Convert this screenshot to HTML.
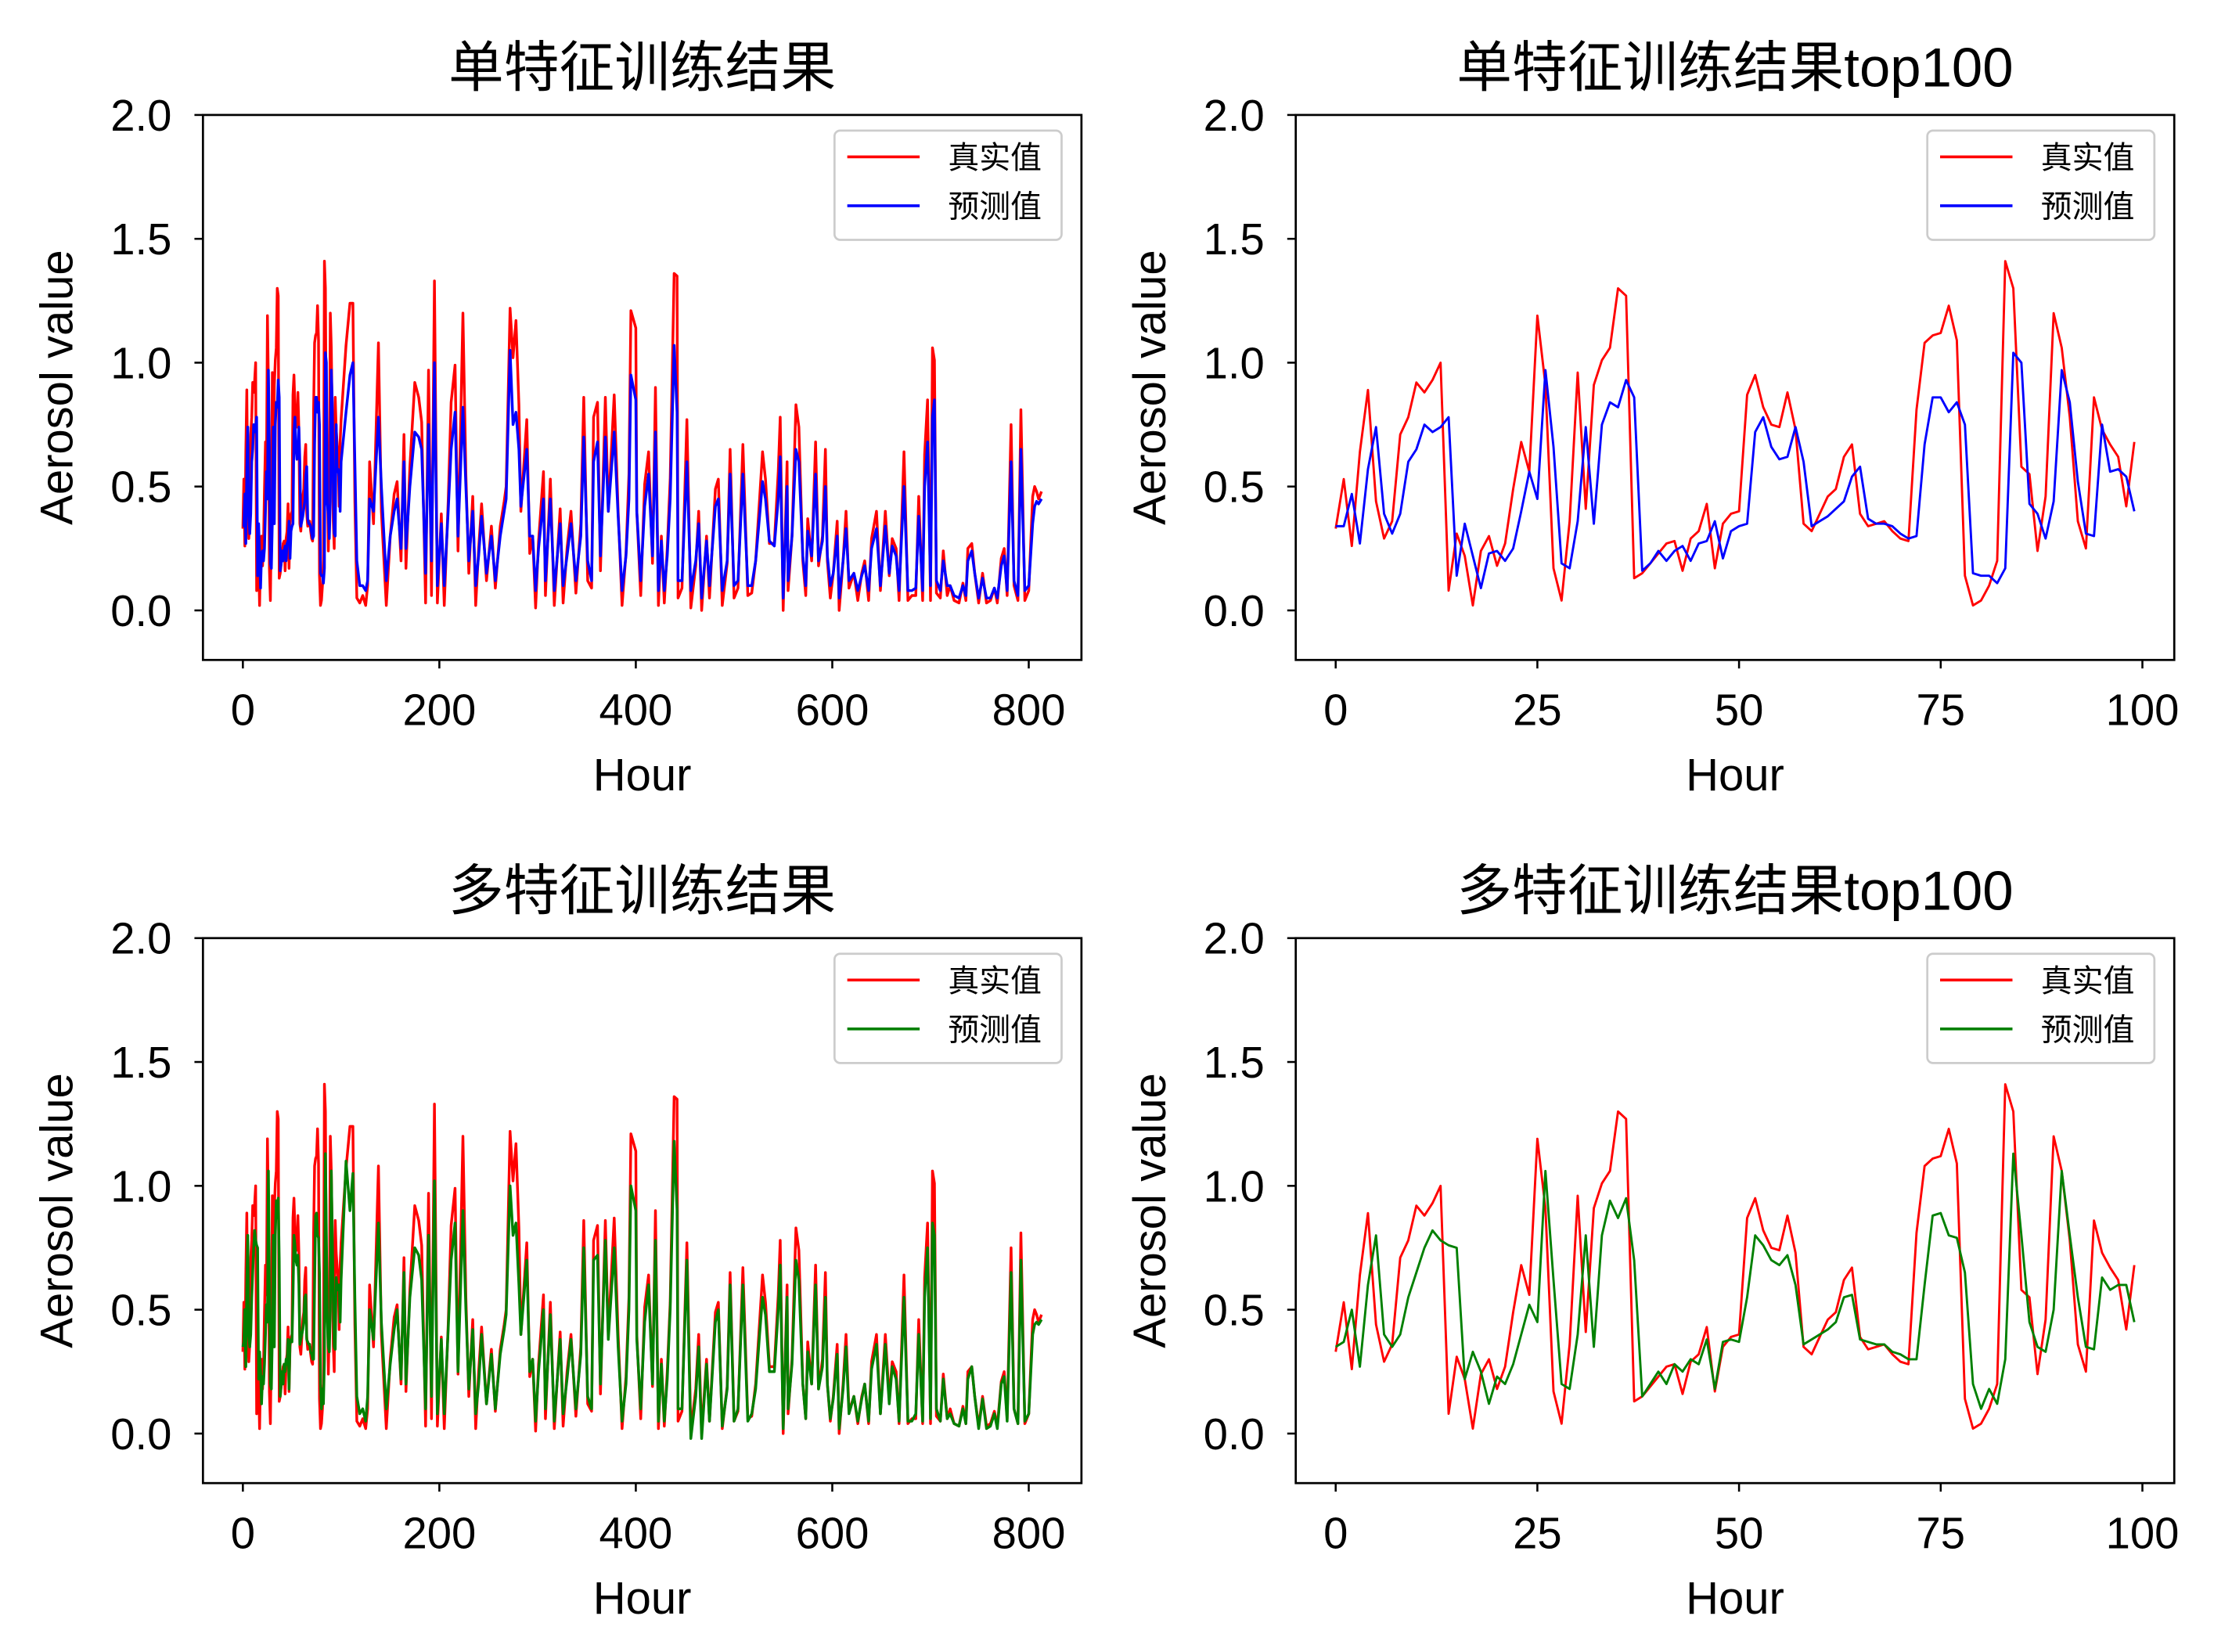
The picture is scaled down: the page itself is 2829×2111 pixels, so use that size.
<!DOCTYPE html>
<html><head><meta charset="utf-8"><title>Aerosol charts</title>
<style>
html,body{margin:0;padding:0;background:#fff;}
svg{display:block;}
text{font-family:"Liberation Sans","Noto Sans CJK SC",sans-serif;fill:#000;}
</style></head>
<body>
<svg id="fig" xmlns="http://www.w3.org/2000/svg" width="2829" height="2111" viewBox="0 0 1560 1164" preserveAspectRatio="none">
<rect x="0" y="0" width="1560" height="1164" fill="#fff"/>
</svg>
<script>
// ---- data: first 100 hours ----
const real100 = [0.33,0.53,0.26,0.64,0.89,0.44,0.29,0.36,0.71,0.78,
0.92,0.88,0.93,1.00,0.08,0.31,0.22,0.02,0.24,0.30,
0.18,0.27,0.49,0.68,0.56,1.19,0.91,0.17,0.04,0.36,
0.96,0.41,0.91,1.01,1.06,1.30,1.27,0.13,0.15,0.19,
0.23,0.27,0.28,0.16,0.29,0.32,0.43,0.17,0.35,0.39,
0.40,0.87,0.95,0.82,0.75,0.74,0.88,0.73,0.35,0.32,
0.39,0.46,0.49,0.62,0.67,0.39,0.34,0.35,0.36,0.32,
0.29,0.28,0.81,1.08,1.11,1.12,1.23,1.09,0.14,0.02,
0.04,0.10,0.20,1.41,1.30,0.58,0.55,0.24,0.46,1.20,
1.06,0.78,0.36,0.25,0.86,0.73,0.67,0.62,0.42,0.68];
const pred1_100 = [0.34,0.34,0.47,0.27,0.57,0.74,0.39,0.31,0.39,0.60,
0.65,0.75,0.72,0.74,0.78,0.14,0.35,0.22,0.09,0.23,
0.24,0.20,0.25,0.40,0.56,0.45,0.97,0.66,0.19,0.17,
0.36,0.74,0.35,0.75,0.84,0.82,0.93,0.86,0.16,0.19,
0.24,0.20,0.24,0.26,0.20,0.27,0.28,0.36,0.21,0.32,
0.34,0.35,0.72,0.78,0.66,0.61,0.62,0.74,0.60,0.34,
0.36,0.38,0.41,0.44,0.54,0.58,0.37,0.35,0.35,0.34,
0.31,0.29,0.30,0.67,0.86,0.86,0.80,0.84,0.75,0.15,
0.14,0.14,0.11,0.17,1.04,1.00,0.43,0.39,0.29,0.44,
0.97,0.84,0.52,0.31,0.30,0.75,0.56,0.57,0.54,0.40];
const pred2_100 = [0.35,0.37,0.50,0.27,0.60,0.80,0.40,0.35,0.40,0.55,
0.65,0.75,0.82,0.78,0.76,0.75,0.22,0.33,0.25,0.12,
0.23,0.20,0.28,0.40,0.52,0.45,1.06,0.62,0.20,0.18,
0.40,0.80,0.35,0.80,0.94,0.87,0.95,0.70,0.15,0.20,
0.25,0.20,0.28,0.25,0.30,0.28,0.38,0.18,0.37,0.38,
0.37,0.55,0.80,0.76,0.70,0.68,0.72,0.60,0.36,0.38,
0.40,0.42,0.45,0.55,0.56,0.38,0.37,0.36,0.36,0.33,
0.32,0.30,0.30,0.60,0.88,0.89,0.80,0.79,0.65,0.20,
0.10,0.18,0.12,0.30,1.13,0.80,0.45,0.35,0.33,0.50,
1.06,0.80,0.55,0.35,0.34,0.63,0.58,0.60,0.60,0.45];
// ---- data: remaining hours (sampled) ----
const tailHours = [100,105,109,112,114,116,119,122,125,127,129,133,138,141,146,150,154,157,161,164,166,170,175,179,182,186,189,192,195,198,202,205,209,212,216,219,224,227,230,234,237,240,243,248,253,257,262,266,268,272,275,278,281,283,289,292,295,298,301,306,308,313,317,323,326,330,334,339,344,347,351,355,357,361,364,369,372,378,382,386,390,393,395,400,401,405,409,413,417,420,423,426,429,432,435,439,442,443,447,452,456,461,464,467,472,475,481,484,488,493,496,500,504,509,514,518,522,526,529,532,536,541,545,547,550,554,555,559,563,566,570,573,575,579,583,586,590,593,595,598,601,605,607,611,614,617,622,626,630,633,637,640,645,649,654,658,661,665,668,673,677,681,685,688,692,694,697,700,702,704,706,710,713,717,720,724,729,733,736,738,742,745,749,753,757,761,765,768,772,775,778,782,785,789,792,796,800,804,806,808,810,813];
const tailReal = [0.77,1.07,1.24,1.24,0.44,0.05,0.03,0.06,0.02,0.1,0.6,0.35,1.08,0.4,0.02,0.3,0.47,0.52,0.2,0.71,0.17,0.58,0.92,0.86,0.76,0.03,0.97,0.06,1.33,0.03,0.39,0.02,0.44,0.84,0.99,0.24,1.2,0.55,0.15,0.46,0.02,0.25,0.43,0.12,0.34,0.09,0.34,0.44,0.5,1.22,1.02,1.17,0.83,0.4,0.77,0.23,0.3,0.01,0.28,0.56,0.06,0.53,0.02,0.41,0.03,0.25,0.4,0.07,0.35,0.86,0.12,0.09,0.78,0.84,0.16,0.86,0.4,0.87,0.4,0.02,0.23,0.55,1.21,1.14,0.4,0.06,0.51,0.64,0.19,0.9,0.02,0.3,0.03,0.25,0.53,1.36,1.35,0.05,0.09,0.77,0.01,0.18,0.4,0.0,0.3,0.05,0.49,0.53,0.02,0.19,0.65,0.05,0.09,0.67,0.06,0.07,0.2,0.45,0.64,0.53,0.27,0.27,0.56,0.78,0.0,0.6,0.08,0.3,0.83,0.74,0.2,0.06,0.37,0.2,0.68,0.18,0.3,0.65,0.2,0.05,0.15,0.36,0.0,0.2,0.4,0.09,0.15,0.04,0.15,0.2,0.04,0.29,0.4,0.08,0.4,0.14,0.29,0.25,0.04,0.64,0.04,0.06,0.06,0.46,0.04,0.63,0.85,0.04,1.06,1.01,0.07,0.05,0.24,0.06,0.1,0.04,0.03,0.11,0.04,0.25,0.27,0.15,0.03,0.15,0.03,0.04,0.09,0.03,0.21,0.25,0.06,0.75,0.1,0.04,0.81,0.04,0.08,0.46,0.5,0.48,0.45,0.48];
const tailPred1 = [0.6,0.8,0.95,1.0,0.6,0.2,0.1,0.1,0.08,0.12,0.45,0.4,0.78,0.5,0.12,0.3,0.4,0.45,0.25,0.6,0.25,0.5,0.72,0.7,0.65,0.15,0.75,0.2,1.0,0.1,0.35,0.1,0.4,0.65,0.8,0.3,0.82,0.5,0.2,0.4,0.1,0.22,0.38,0.15,0.3,0.12,0.3,0.4,0.45,1.05,0.75,0.8,0.65,0.42,0.65,0.3,0.3,0.08,0.25,0.45,0.12,0.45,0.08,0.35,0.1,0.22,0.35,0.12,0.3,0.7,0.2,0.12,0.6,0.68,0.22,0.7,0.4,0.72,0.38,0.08,0.22,0.45,0.95,0.85,0.4,0.12,0.42,0.55,0.22,0.72,0.08,0.28,0.08,0.22,0.45,1.07,0.8,0.12,0.12,0.6,0.08,0.2,0.35,0.05,0.28,0.1,0.42,0.45,0.08,0.2,0.55,0.1,0.12,0.55,0.1,0.1,0.2,0.38,0.52,0.45,0.28,0.26,0.45,0.62,0.05,0.5,0.12,0.3,0.65,0.6,0.22,0.1,0.32,0.22,0.55,0.2,0.28,0.5,0.22,0.1,0.15,0.3,0.05,0.2,0.33,0.12,0.15,0.08,0.14,0.18,0.08,0.25,0.33,0.1,0.34,0.15,0.26,0.22,0.08,0.5,0.08,0.08,0.09,0.38,0.08,0.5,0.68,0.1,0.78,0.85,0.12,0.08,0.2,0.1,0.1,0.06,0.05,0.1,0.06,0.2,0.24,0.15,0.05,0.13,0.05,0.05,0.09,0.05,0.18,0.22,0.08,0.6,0.12,0.06,0.65,0.08,0.1,0.35,0.42,0.44,0.43,0.45];
const tailPred2 = [0.62,1.1,0.9,1.05,0.55,0.15,0.08,0.1,0.05,0.15,0.5,0.38,0.85,0.45,0.1,0.28,0.42,0.5,0.22,0.65,0.2,0.55,0.75,0.72,0.62,0.1,0.8,0.15,1.02,0.08,0.38,0.08,0.42,0.7,0.85,0.25,0.9,0.5,0.18,0.42,0.08,0.2,0.4,0.12,0.32,0.1,0.32,0.42,0.48,1.0,0.8,0.85,0.6,0.4,0.7,0.25,0.3,0.05,0.25,0.5,0.1,0.48,0.05,0.38,0.08,0.22,0.38,0.1,0.32,0.75,0.15,0.1,0.7,0.72,0.2,0.78,0.38,0.75,0.35,0.05,0.2,0.5,1.0,0.9,0.38,0.1,0.45,0.6,0.2,0.78,0.05,0.28,0.05,0.22,0.5,1.18,0.9,0.1,0.1,0.7,-0.02,0.15,0.35,-0.02,0.28,0.05,0.45,0.5,0.03,0.18,0.6,0.05,0.1,0.6,0.05,0.08,0.18,0.4,0.55,0.48,0.25,0.25,0.5,0.68,0.02,0.55,0.1,0.28,0.7,0.62,0.2,0.06,0.33,0.2,0.6,0.18,0.27,0.55,0.2,0.06,0.14,0.32,0.02,0.18,0.35,0.08,0.15,0.05,0.14,0.2,0.05,0.26,0.36,0.08,0.36,0.12,0.27,0.22,0.05,0.55,0.05,0.05,0.08,0.4,0.05,0.55,0.75,0.06,0.85,0.8,0.1,0.05,0.22,0.06,0.08,0.04,0.03,0.1,0.04,0.22,0.27,0.15,0.02,0.14,0.02,0.03,0.08,0.02,0.2,0.23,0.05,0.65,0.1,0.04,0.7,0.05,0.08,0.4,0.44,0.45,0.44,0.46];
const yTicks = [0.0,0.5,1.0,1.5,2.0];
const yTickLabels = ["0.0","0.5","1.0","1.5","2.0"];
const xTicksFull = [0,200,400,600,800];
const xTicksTop = [0,25,50,75,100];
const legendLabels = ["真实值","预测值"];

const NS = "http://www.w3.org/2000/svg";
const svg = document.getElementById('fig');
function el(tag, attrs, parent){
  const e = document.createElementNS(NS, tag);
  for (const k in attrs) e.setAttribute(k, attrs[k]);
  (parent||svg).appendChild(e);
  return e;
}
function seriesPts(hours, vals, x, y){
  const n = Math.min(hours.length, vals.length);
  const pts = [];
  for (let i=0;i<n;i++) pts.push(x(hours[i]).toFixed(2)+','+y(vals[i]).toFixed(2));
  return pts;
}
const idx100 = real100.map((v,i)=>i);

function panel(p){
  const g = el('g', {});
  
  
  const x = h => p.x0 + (h - p.xmin) / (p.xmax - p.xmin) * (p.x1 - p.x0);
  const y = v => p.y1 - (v - (-0.2)) / (2.2) * (p.y1 - p.y0);
  const cid = 'clip-' + p.name;
  const cp = el('clipPath', {id: cid}, g);
  el('rect', {x:p.x0, y:p.y0, width:p.x1-p.x0, height:p.y1-p.y0}, cp);
  const lines = el('g', {'clip-path':'url(#'+cid+')'}, g);
  const rl = el('polyline', {points: seriesPts(p.hours, p.real, x, y).join(' '), fill:'none', stroke:'#ff0000', 'stroke-width':p.sw, 'stroke-linejoin':'round'}, lines);
  
  
  const pl = el('polyline', {points: seriesPts(p.hours, p.pred, x, y).join(' '), fill:'none', stroke:p.color, 'stroke-width':p.sw, 'stroke-linejoin':'round'}, lines);
  
  
  const fr = el('rect', {x:p.x0, y:p.y0, width:p.x1-p.x0, height:p.y1-p.y0, fill:'none', stroke:'#000', 'stroke-width':1.5}, g);
  
  
  yTicks.forEach((t,i)=>{
    const yy = y(t);
    el('line', {x1:p.x0-6, x2:p.x0, y1:yy, y2:yy, stroke:'#000', 'stroke-width':1.4}, g);
    const tx = el('text', {x:p.x0-22, y:yy+11, 'text-anchor':'end', 'font-size':31}, g);
    tx.textContent = yTickLabels[i];
    
    
  });
  p.xticks.forEach(t=>{
    const xx = x(t);
    el('line', {x1:xx, x2:xx, y1:p.y1, y2:p.y1+6, stroke:'#000', 'stroke-width':1.4}, g);
    const tx = el('text', {x:xx, y:p.y1+46, 'text-anchor':'middle', 'font-size':31}, g);
    tx.textContent = String(t);
    
    
  });
  const cx = (p.x0+p.x1)/2;
  const xl = el('text', {x:cx, y:p.y1+92, 'text-anchor':'middle', 'font-size':32}, g);
  xl.textContent = 'Hour';
  
  
  const cy = (p.y0+p.y1)/2;
  const yl = el('text', {x:0, y:0, 'text-anchor':'middle', 'font-size':32, transform:'translate('+(p.x0-92)+','+cy+') rotate(-90)'}, g);
  yl.textContent = 'Aerosol value';
  
  
  const ti = el('text', {x:cx, y:p.y0-20, 'text-anchor':'middle', 'font-size':39}, g);
  ti.textContent = p.title;
  
  
  const lg = el('g', {}, g);
  
  
  const lx = p.x1 - 174, ly = p.y0 + 11;
  el('rect', {x:lx, y:ly, width:160, height:77, rx:4, fill:'#fff', 'fill-opacity':0.8, stroke:'#cccccc', 'stroke-width':1.5}, lg);
  [['#ff0000',legendLabels[0]],[p.color,legendLabels[1]]].forEach((e,i)=>{
    const yy = ly + 18.5 + i*34.5;
    el('line', {x1:lx+9, x2:lx+60, y1:yy, y2:yy, stroke:e[0], 'stroke-width':2}, lg);
    const t = el('text', {x:lx+80, y:yy+8, 'font-size':22}, lg);
    t.textContent = e[1];
    
    
  });
}

const fullHours = idx100.concat(tailHours);
const fullReal = real100.concat(tailReal);
panel({name:'single-feature-chart', title:'单特征训练结果', x0:143, x1:762, y0:81, y1:465, xmin:-40.65, xmax:853.65, sw:1.9,
  hours:fullHours, real:fullReal, pred:pred1_100.concat(tailPred1), color:'#0000ff', xticks:xTicksFull});
panel({name:'single-feature-top100-chart', title:'单特征训练结果top100', x0:913, x1:1532, y0:81, y1:465, xmin:-4.95, xmax:103.95, sw:1.6,
  hours:idx100, real:real100, pred:pred1_100, color:'#0000ff', xticks:xTicksTop});
panel({name:'multi-feature-chart', title:'多特征训练结果', x0:143, x1:762, y0:661, y1:1045, xmin:-40.65, xmax:853.65, sw:1.9,
  hours:fullHours, real:fullReal, pred:pred2_100.concat(tailPred2), color:'#008000', xticks:xTicksFull});
panel({name:'multi-feature-top100-chart', title:'多特征训练结果top100', x0:913, x1:1532, y0:661, y1:1045, xmin:-4.95, xmax:103.95, sw:1.6,
  hours:idx100, real:real100, pred:pred2_100, color:'#008000', xticks:xTicksTop});
</script>
</body></html>
